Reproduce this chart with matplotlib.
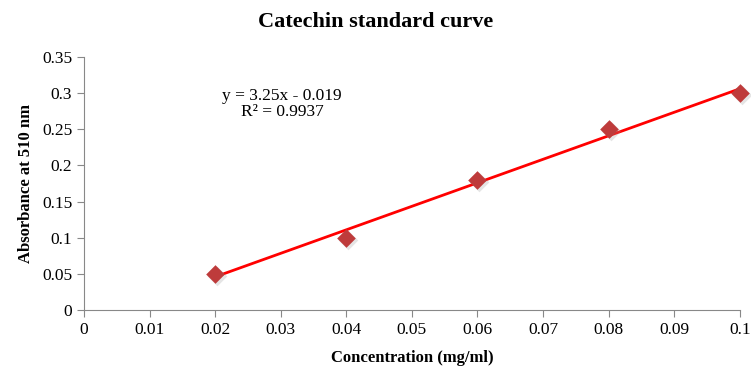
import matplotlib
matplotlib.use("Agg")
import matplotlib.pyplot as plt
import numpy as np

conc = [0.02, 0.04, 0.06, 0.08, 0.10]
absorb = [0.05, 0.10, 0.18, 0.25, 0.30]
x_ticks = [0, 0.01, 0.02, 0.03, 0.04, 0.05, 0.06, 0.07, 0.08, 0.09, 0.1]
x_labels = ["0", "0.01", "0.02", "0.03", "0.04", "0.05", "0.06", "0.07", "0.08", "0.09", "0.1"]
y_ticks = [0, 0.05, 0.1, 0.15, 0.2, 0.25, 0.3, 0.35]
y_labels = ["0", "0.05", "0.1", "0.15", "0.2", "0.25", "0.3", "0.35"]

plt.rcParams["font.family"] = ["Liberation Serif", "DejaVu Serif"]

fig = plt.figure(figsize=(7.51, 3.70), dpi=100)
ax = fig.add_axes([0.112, 0.162, 0.873, 0.684])

slope, icpt = np.polyfit(conc, absorb, 1)
xs = np.array([conc[0], conc[-1]])
ax.plot(xs, slope * xs + icpt, color="#ff0000", lw=2, zorder=2, clip_on=False)

# soft shadow under the markers
ax.scatter(np.array(conc) + 0.0003, np.array(absorb) - 0.003, marker="D", s=100,
           color="#999999", alpha=0.25, linewidths=0, zorder=2.5, clip_on=False)
ax.scatter(conc, absorb, marker="D", s=90, color="#be3b3b", linewidths=0, zorder=3,
           clip_on=False)

ax.set_xlim(0, 0.1)
ax.set_ylim(0, 0.35)
ax.set_xticks(x_ticks)
ax.set_xticklabels(x_labels)
ax.set_yticks(y_ticks)
ax.set_yticklabels(y_labels)
ax.tick_params(labelsize=12.5, color="#888888", length=5, direction="out")
for side in ("top", "right"):
    ax.spines[side].set_visible(False)
for side in ("left", "bottom"):
    ax.spines[side].set_color("#888888")

ax.set_xlabel("Concentration (mg/ml)", fontsize=12, fontweight="bold", labelpad=9)
ax.set_ylabel("Absorbance at 510 nm", fontsize=12, fontweight="bold", labelpad=6)
fig.text(0.5, 0.94, "Catechin standard curve", ha="center", va="center",
         fontsize=16, fontweight="bold")

ax.text(0.0302, 0.285, "y = 3.25x - 0.019\nR\u00b2 = 0.9937", ha="center", va="center",
        fontsize=12.5, linespacing=1.05)

fig.savefig("out.png", dpi=100)
